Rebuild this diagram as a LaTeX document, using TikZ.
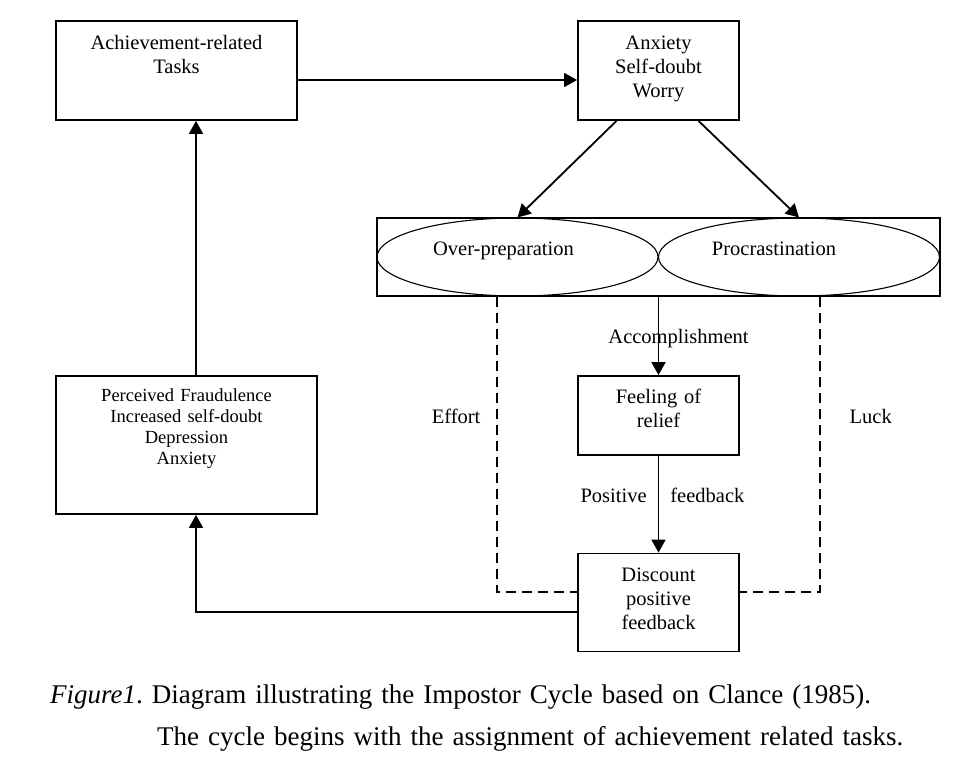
\documentclass[tikz,border=0pt]{standalone}
\usepackage{fontspec}
\setmainfont{Liberation Serif}
\usetikzlibrary{arrows.meta,positioning,shapes.geometric}

\begin{document}
\begin{tikzpicture}[x=1pt,y=-1pt,
  task/.style={draw,line width=1.8pt,align=center,inner sep=0pt,text height=15pt,font=\fontsize{20.5}{24}\selectfont},
  oval/.style={draw,ellipse,line width=1.1pt,minimum width=281pt,minimum height=78pt,inner sep=0pt,text height=14pt,text depth=18pt,font=\fontsize{20.5}{24}\selectfont},
  edge/.style={-{Triangle[length=13pt,width=14pt]},line width=1.8pt},
  dashline/.style={line width=1.3pt,dash pattern=on 10pt off 6pt},
  tag/.style={inner sep=0pt,font=\fontsize{20.5}{24}\selectfont}
]
\useasboundingbox (0,0) rectangle (975,771);
\node[task,minimum width=241pt,minimum height=99pt,text width=231pt,text depth=58pt] (tasks) at (176.5,70.5) {Achievement-related\\Tasks};
\node[task,minimum width=161pt,minimum height=99pt,text width=151pt,text depth=58pt] (anxiety) at (658.5,70.5) {Anxiety\\Self-doubt\\Worry};
\node[draw,line width=1.8pt,minimum width=563pt,minimum height=78pt,inner sep=0pt] (frame) at (658.5,257) {};
\node[oval] (overprep) at (517.5,257) {Over-preparation\hspace*{28pt}};
\node[oval] (procrast) at (799,257) {Procrastination\hspace*{50pt}};
\node[task,minimum width=161pt,minimum height=79pt,text width=151pt,text depth=40pt] (relief) at (658.5,415.5) {Feeling of\\relief};
\node[task,minimum width=161pt,minimum height=98pt,text width=151pt,text depth=57pt] (discount) at (658.5,602.5) {Discount\\positive\\feedback};
\node[task,minimum width=261pt,minimum height=138pt,text width=251pt,text depth=103pt,font=\fontsize{18.5}{21.3}\selectfont] (fraud) at (186.5,445) {Perceived Fraudulence\\Increased self-doubt\\Depression\\Anxiety};
\node[anchor=base west,inner sep=0pt,text width=925pt,align=left,font=\fontsize{27}{42}\selectfont\frenchspacing] (caption) at (50,703) {\textit{Figure1}. Diagram illustrating the Impostor Cycle based on Clance (1985).\\\hspace*{107pt}The cycle begins with the assignment of achievement related tasks.};

\draw[edge] ([yshift=-9.5pt]tasks.east) -- ([yshift=-9.5pt]anxiety.west);
\draw[edge] ([xshift=-42pt]anxiety.south) -- (overprep.north);
\draw[edge] ([xshift=40pt]anxiety.south) -- (procrast.north);
\draw[edge] (frame.south) -- node[tag,pos=0.59,anchor=base,xshift=20pt]{Accomplishment} (relief.north);
\draw[edge] (relief.south) -- node[tag,pos=0.48,anchor=base east,xshift=-11pt]{Positive} node[tag,pos=0.48,anchor=base west,xshift=11pt]{feedback} (discount.north);
\draw[dashline] ([xshift=-161.5pt]frame.south) |- node[tag,pos=0.215,anchor=base east,xshift=-16pt]{Effort} ([yshift=10.5pt]discount.west);
\draw[dashline] ([xshift=161.5pt]frame.south) |- node[tag,pos=0.215,anchor=base west,xshift=29pt]{Luck} ([yshift=10.5pt]discount.east);
\draw[edge] ([yshift=-9.5pt]discount.west) -| ([xshift=9.5pt]fraud.south);
\draw[edge] ([xshift=9.5pt]fraud.north) -- ([xshift=19.5pt]tasks.south);
\end{tikzpicture}
\end{document}
